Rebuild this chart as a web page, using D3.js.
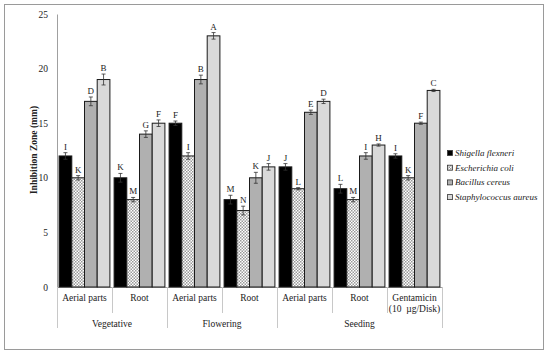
<!DOCTYPE html>
<html><head><meta charset="utf-8">
<script src="https://cdn.jsdelivr.net/npm/d3@7"></script>
<style>body{margin:0;background:#fff}svg{display:block}text{font-family:"Liberation Serif","Times New Roman",serif;white-space:pre}</style>
</head><body><svg id="c" width="550" height="355"></svg>
<script>
const categories = ["Aerial parts","Root","Aerial parts","Root","Aerial parts","Root","Gentamicin|(10  µg/Disk)"];
const groups = [{name:"Vegetative",from:0,to:1},{name:"Flowering",from:2,to:3},{name:"Seeding",from:4,to:6}];
const seriesNames = ["Shigella flexneri","Escherichia coli","Bacillus cereus","Staphylococcus aureus"];
const shigella = [12,10,15,8,11,9,12];
const ecoli = [10,8,12,7,9,8,10];
const bacillus = [17,14,19,10,16,12,15];
const staph = [19,15,23,11,17,13,18];
const errShigella = [0.3,0.4,0.2,0.4,0.3,0.4,0.2];
const errEcoli = [0.2,0.2,0.3,0.4,0.1,0.2,0.2];
const errBacillus = [0.4,0.3,0.4,0.5,0.2,0.3,0.1];
const errStaph = [0.5,0.3,0.3,0.3,0.2,0.1,0.1];
const lettersShigella = ["I","K","F","M","J","L","I"];
const lettersEcoli = ["K","M","I","N","L","M","K"];
const lettersBacillus = ["D","G","B","K","E","I","F"];
const lettersStaph = ["B","F","A","J","D","H","C"];
const yTicks = [0,5,10,15,20,25];

const values = [shigella, ecoli, bacillus, staph];
const errs = [errShigella, errEcoli, errBacillus, errStaph];
const letters = [lettersShigella, lettersEcoli, lettersBacillus, lettersStaph];

const svg = d3.select("#c");
const defs = svg.append("defs");
const pat = defs.append("pattern").attr("id","chk").attr("width",3).attr("height",3).attr("patternUnits","userSpaceOnUse");
pat.append("rect").attr("width",3).attr("height",3).attr("fill","#fff");
pat.append("rect").attr("width",1.5).attr("height",1.5).attr("fill","#999");
pat.append("rect").attr("x",1.5).attr("y",1.5).attr("width",1.5).attr("height",1.5).attr("fill","#999");
const fills = ["#000","url(#chk)","#b0b0b0","#d9d9d9"];

svg.append("rect").attr("x",4.5).attr("y",4.5).attr("width",539).attr("height",345).attr("fill","none").attr("stroke","#9a9a9a");

const x0 = 57, x1 = 442, yTop = 14, yBot = 287;
const x = d3.scaleBand().domain(d3.range(categories.length)).range([x0,x1]).paddingInner(0).paddingOuter(0);
const xs = d3.scaleBand().domain(d3.range(4)).range([0,x.bandwidth()]).paddingOuter(0.165).paddingInner(0);
const y = d3.scaleLinear().domain([0,25]).range([yBot,yTop]);

// y axis
const ya = svg.append("g").attr("transform",`translate(${x0},0)`).call(d3.axisLeft(y).tickValues(yTicks).tickSize(0).tickPadding(9));
ya.select(".domain").attr("stroke","#a0a0a0");
ya.selectAll("text").attr("font-size",9.5).attr("fill","#222").attr("font-family","Liberation Serif");

svg.append("text").attr("transform",`translate(37,150) rotate(-90)`).attr("text-anchor","middle")
  .attr("font-size",9.5).attr("font-weight","bold").attr("fill","#222").text("Inhibition Zone (mm)");

// x axis line
svg.append("line").attr("x1",x0).attr("x2",x1).attr("y1",yBot+0.5).attr("y2",yBot+0.5).attr("stroke","#a0a0a0");
// separators
for(let i=0;i<=categories.length;i++){
  const xx = i<categories.length ? x(i) : x1;
  const isGroup = groups.some(g=>g.from===i) || i===categories.length;
  svg.append("line").attr("x1",Math.round(xx)+0.5).attr("x2",Math.round(xx)+0.5).attr("y1",yBot).attr("y2",isGroup?328:313).attr("stroke","#c8c8c8");
}
categories.forEach((c,i)=>{
  const parts = c.split("|");
  parts.forEach((p,j)=>{
    svg.append("text").attr("x",x(i)+x.bandwidth()/2).attr("y",301+j*10.5).attr("text-anchor","middle")
      .attr("font-size",9.5).attr("fill","#222").text(p);
  });
});
groups.forEach(g=>{
  const cx = (x(g.from)+x(g.to)+x.bandwidth())/2;
  svg.append("text").attr("x",cx).attr("y",327).attr("text-anchor","middle").attr("font-size",9.5).attr("fill","#222").text(g.name);
});

// bars
values.forEach((vals,s)=>{
  vals.forEach((v,i)=>{
    const bx = x(i)+xs(s), bw = xs.bandwidth();
    svg.append("rect").attr("x",bx).attr("y",y(v)).attr("width",bw).attr("height",yBot-y(v))
      .attr("fill",fills[s]).attr("stroke","#1a1a1a").attr("stroke-width",1);
    const e = errs[s][i], cx = bx+bw/2;
    svg.append("line").attr("x1",cx).attr("x2",cx).attr("y1",y(v+e)).attr("y2",y(v-e)).attr("stroke","#333").attr("stroke-width",0.8);
    [v+e,v-e].forEach(t=>svg.append("line").attr("x1",cx-2).attr("x2",cx+2).attr("y1",y(t)).attr("y2",y(t)).attr("stroke","#333").attr("stroke-width",0.8));
    svg.append("text").attr("x",cx).attr("y",y(v+e)-3).attr("text-anchor","middle").attr("font-size",9).attr("fill","#222").text(letters[s][i]);
  });
});

// legend
seriesNames.forEach((n,k)=>{
  const ly = 155 + k*14.7;
  svg.append("rect").attr("x",447.5).attr("y",ly-4.5).attr("width",5).attr("height",5).attr("fill",fills[k]).attr("stroke","#333").attr("stroke-width",0.8);
  svg.append("text").attr("x",455).attr("y",ly+1).attr("font-size",9).attr("font-style","italic").attr("fill","#222").text(n);
});
</script></body></html>
